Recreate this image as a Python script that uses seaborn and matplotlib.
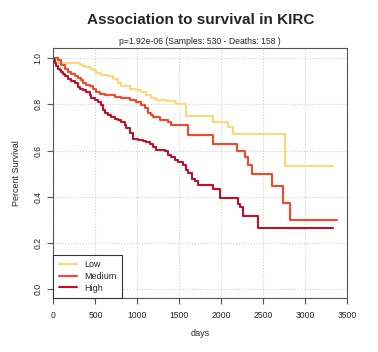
import numpy as np
import pandas as pd
import matplotlib
matplotlib.use('Agg')
import matplotlib.pyplot as plt
import seaborn as sns

# Kaplan-Meier step points (days, survival)
low_days = [0, 50, 311, 351, 391, 431, 470, 510, 570, 650, 710, 769, 809, 909, 989,
            1049, 1108, 1168, 1228, 1340, 1450, 1480, 1587, 1906, 2085, 2137, 2763, 3333]
low_surv = [1.0, 0.978, 0.973, 0.967, 0.963, 0.956, 0.949, 0.938, 0.930, 0.924, 0.912,
            0.895, 0.879, 0.869, 0.862, 0.852, 0.840, 0.830, 0.820, 0.813, 0.806, 0.800,
            0.748, 0.726, 0.704, 0.671, 0.535, 0.535]

med_days = [0, 52, 92, 132, 171, 211, 251, 291, 331, 351, 391, 431, 470, 510, 550, 610,
            670, 730, 809, 909, 989, 1049, 1088, 1130, 1160, 1188, 1268, 1367, 1407, 1607,
            1906, 2193, 2285, 2324, 2364, 2603, 2743, 2823, 3381]
med_surv = [1.0, 0.992, 0.970, 0.956, 0.941, 0.934, 0.924, 0.915, 0.905, 0.891, 0.884,
            0.879, 0.869, 0.855, 0.847, 0.843, 0.840, 0.833, 0.826, 0.819, 0.811, 0.797,
            0.783, 0.765, 0.755, 0.745, 0.733, 0.722, 0.711, 0.668, 0.628, 0.599, 0.574,
            0.538, 0.499, 0.447, 0.374, 0.299, 0.299]

high_days = [0, 10, 15, 32, 52, 72, 92, 112, 132, 171, 211, 251, 291, 311, 351, 391, 431,
             451, 490, 530, 570, 590, 610, 650, 690, 730, 769, 809, 849, 869, 909, 949,
             1009, 1068, 1108, 1148, 1188, 1228, 1328, 1367, 1407, 1447, 1487, 1547, 1587,
             1607, 1647, 1687, 1727, 1906, 1985, 2200, 2230, 2265, 2444, 3341]
high_surv = [1.0, 0.992, 0.978, 0.968, 0.956, 0.949, 0.941, 0.934, 0.924, 0.912, 0.901,
             0.891, 0.876, 0.866, 0.862, 0.855, 0.840, 0.826, 0.819, 0.811, 0.797, 0.775,
             0.761, 0.754, 0.746, 0.739, 0.732, 0.725, 0.710, 0.696, 0.674, 0.649, 0.645,
             0.640, 0.635, 0.629, 0.617, 0.603, 0.596, 0.581, 0.571, 0.560, 0.550, 0.538,
             0.516, 0.502, 0.477, 0.466, 0.451, 0.433, 0.393, 0.370, 0.354, 0.317, 0.262,
             0.262]

groups = ['Low', 'Medium', 'High']
colors = ['#FED976', '#F8462C', '#C0102A']

df = pd.concat([
    pd.DataFrame({'days': low_days, 'surv': low_surv, 'group': 'Low'}),
    pd.DataFrame({'days': med_days, 'surv': med_surv, 'group': 'Medium'}),
    pd.DataFrame({'days': high_days, 'surv': high_surv, 'group': 'High'}),
])

sns.set_style('white')
plt.rcParams['font.family'] = ['Liberation Sans', 'DejaVu Sans']

fig = plt.figure(figsize=(3.78, 3.52), dpi=100)
ax = fig.add_axes([0.1415, 0.1534, 0.776, 0.7102])

sns.lineplot(data=df, x='days', y='surv', hue='group', hue_order=groups,
             palette=colors, drawstyle='steps-post', estimator=None, sort=False,
             linewidth=1.5, ax=ax)

ax.set_xlim(0, 3500)
ax.set_ylim(-0.04, 1.045)
ax.set_xticks(np.arange(0, 3501, 500))
ax.set_yticks([0.0, 0.2, 0.4, 0.6, 0.8, 1.0])
ax.set_yticklabels(['0.0', '0.2', '0.4', '0.6', '0.8', '1.0'], rotation=90, va='center')
ax.grid(True, color='#d0d0d0', linestyle=':', linewidth=0.8)
ax.tick_params(axis='both', direction='out', length=4, width=0.8, color='#555555',
               labelsize=6.2, bottom=True, left=True)
ax.tick_params(axis='x', pad=5)
ax.tick_params(axis='y', pad=4)
for s in ax.spines.values():
    s.set_color('#555555')
    s.set_linewidth(0.8)

ax.set_xlabel('days', fontsize=6.5, labelpad=7)
ax.set_ylabel('Percent Survival', fontsize=6.5, labelpad=9)

fig.text(0.53, 0.943, 'Association to survival in KIRC', ha='center', va='center',
         fontsize=11, fontweight='bold')
fig.text(0.53, 0.881, 'p=1.92e-06 (Samples: 530 - Deaths: 158 )', ha='center',
         va='center', fontsize=6.2)

leg = ax.legend(loc='lower left', borderaxespad=0, fancybox=False, framealpha=1,
                edgecolor='#333333', fontsize=6.5, handlelength=2.0, title=None,
                borderpad=0.6, labelspacing=0.3)
leg.get_frame().set_linewidth(0.8)

fig.savefig('out.png', dpi=100)
